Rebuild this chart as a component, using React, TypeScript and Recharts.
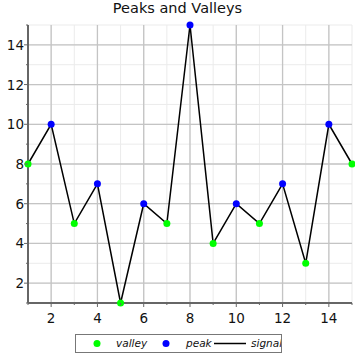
import React from 'react';
import {
  ComposedChart,
  Line,
  Scatter,
  XAxis,
  YAxis,
  CartesianGrid,
  ReferenceLine,
  Legend,
} from 'recharts';

const positions = [1, 2, 3, 4, 5, 6, 7, 8, 9, 10, 11, 12, 13, 14, 15];
const signal = [8, 10, 5, 7, 1, 6, 5, 15, 4, 6, 5, 7, 3, 10, 8];
const valleyX = [1, 3, 5, 7, 9, 11, 13, 15];
const valleyY = [8, 5, 1, 5, 4, 5, 3, 8];
const peakX = [2, 4, 6, 8, 10, 12, 14];
const peakY = [10, 7, 6, 15, 6, 7, 10];
const xMajor = [2, 4, 6, 8, 10, 12, 14];
const yTicks = [1, 2, 3, 4, 5, 6, 7, 8, 9, 10, 11, 12, 13, 14, 15];
const yMajor = [2, 4, 6, 8, 10, 12, 14];

const signalData = positions.map((x, i) => ({ x, y: signal[i] }));
const valleyData = valleyX.map((x, i) => ({ x, y: valleyY[i] }));
const peakData = peakX.map((x, i) => ({ x, y: peakY[i] }));

const FONT = 'DejaVu Sans, sans-serif';
const AXIS = '#666';

const XTick = (props: any) => {
  const { x, y, payload } = props;
  const major = payload.value % 2 === 0;
  return (
    <g>
      <line x1={x} y1={y} x2={x} y2={y + (major ? 4 : 2)} stroke={AXIS} strokeWidth={1} />
      {major && (
        <text x={x} y={y + 20} textAnchor="middle" fontSize={13.5} fontFamily={FONT} fill="#111">
          {payload.value}
        </text>
      )}
    </g>
  );
};

const YTick = (props: any) => {
  const { x, y, payload } = props;
  const major = payload.value % 2 === 0;
  return (
    <g>
      <line x1={x} y1={y} x2={x - (major ? 4 : 2)} y2={y} stroke={AXIS} strokeWidth={1} />
      {major && (
        <text x={x - 4} y={y + 5} textAnchor="end" fontSize={13.5} fontFamily={FONT} fill="#111">
          {payload.value}
        </text>
      )}
    </g>
  );
};

const item = (left: number): React.CSSProperties => ({ position: 'absolute', left, top: 0, lineHeight: '17px' });

const LegendBox = () => (
  <div
    style={{
      position: 'relative',
      width: 207,
      height: 19,
      marginLeft: 75,
      border: '1px solid #777',
      fontFamily: FONT,
      fontSize: 10.5,
      fontStyle: 'italic',
      color: '#111',
      boxSizing: 'border-box',
      overflow: 'hidden',
      whiteSpace: 'nowrap',
    }}
  >
    <svg width={10} height={17} style={item(16)}>
      <circle cx={5} cy={8.5} r={3.5} fill="#00ff00" />
    </svg>
    <span style={item(40)}>valley</span>
    <svg width={10} height={17} style={item(85)}>
      <circle cx={5} cy={8.5} r={3.5} fill="#0000ff" />
    </svg>
    <span style={item(110)}>peak</span>
    <svg width={32} height={17} style={item(138)}>
      <line x1={0} y1={8.5} x2={32} y2={8.5} stroke="#000" strokeWidth={1.5} />
    </svg>
    <span style={item(175)}>signal</span>
  </div>
);

export default function App() {
  return (
    <div style={{ position: 'absolute', left: 0, top: 0, width: 355, height: 355, background: '#fff' }}>
      <div
        style={{
          position: 'absolute',
          top: 0,
          width: 355,
          textAlign: 'center',
          fontFamily: FONT,
          fontSize: 14.5,
          color: '#111',
        }}
      >
        Peaks and Valleys
      </div>
      <ComposedChart
        width={355}
        height={355}
        margin={{ top: 25, right: 3, left: 0, bottom: 0 }}
      >
        <CartesianGrid stroke="#ebebeb" strokeWidth={1} />
        {xMajor.map((v) => (
          <ReferenceLine key={'x' + v} x={v} stroke="#c4c4c4" strokeWidth={1.3} />
        ))}
        {yMajor.map((v) => (
          <ReferenceLine key={'y' + v} y={v} stroke="#c4c4c4" strokeWidth={1.3} />
        ))}
        <XAxis
          type="number"
          dataKey="x"
          domain={[1, 15]}
          ticks={positions}
          interval={0}
          height={30}
          tickSize={0}
          tickMargin={0}
          tickLine={false}
          tick={<XTick />}
          axisLine={{ stroke: AXIS, strokeWidth: 2 }}
        />
        <YAxis
          type="number"
          dataKey="y"
          domain={[1, 15]}
          ticks={yTicks}
          interval={0}
          width={28}
          tickSize={0}
          tickMargin={0}
          tickLine={false}
          tick={<YTick />}
          axisLine={{ stroke: AXIS, strokeWidth: 2 }}
        />
        <Line
          data={signalData}
          dataKey="y"
          stroke="#000"
          strokeWidth={1.5}
          dot={false}
          isAnimationActive={false}
          name="signal"
        />
        <Scatter data={valleyData} dataKey="y" fill="#00ff00" isAnimationActive={false} name="valley" shape={(p: any) => <circle cx={p.cx} cy={p.cy} r={3.5} fill="#00ff00" />} />
        <Scatter data={peakData} dataKey="y" fill="#0000ff" isAnimationActive={false} name="peak" shape={(p: any) => <circle cx={p.cx} cy={p.cy} r={3.5} fill="#0000ff" />} />
        <Legend verticalAlign="bottom" height={22} content={<LegendBox />} wrapperStyle={{ bottom: -1, left: 0, width: 355 }} />
      </ComposedChart>
    </div>
  );
}
